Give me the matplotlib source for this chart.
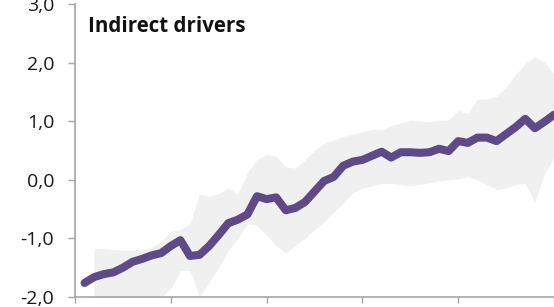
import matplotlib
matplotlib.use("Agg")
import matplotlib.pyplot as plt

years = list(range(1971, 2021))
index_values = [
    -1.76, -1.66, -1.61, -1.58, -1.50, -1.40, -1.35, -1.29, -1.25, -1.13,
    -1.03, -1.30, -1.28, -1.13, -0.94, -0.74, -0.68, -0.59, -0.28, -0.33,
    -0.30, -0.52, -0.48, -0.38, -0.20, -0.02, 0.05, 0.24, 0.31, 0.34,
    0.41, 0.48, 0.38, 0.47, 0.47, 0.46, 0.47, 0.53, 0.49, 0.66,
    0.63, 0.72, 0.72, 0.66, 0.78, 0.90, 1.04, 0.88, 0.99, 1.11,
]

band_years = list(range(1972, 2021))
band_upper = [
    -1.17, -1.17, -1.19, -1.20, -1.20, -1.19, -1.15, -1.05, -0.88,
    -0.85, -0.75, -0.25, -0.28, -0.24, -0.14, -0.25, 0.12, 0.35, 0.43,
    0.40, 0.22, 0.20, 0.34, 0.50, 0.62, 0.68, 0.74, 0.78, 0.82,
    0.86, 0.86, 0.92, 0.97, 1.02, 1.00, 0.99, 1.02, 1.02, 1.18,
    1.13, 1.37, 1.38, 1.42, 1.58, 1.80, 1.98, 2.10, 2.00, 1.80,
]
band_lower = [
    -2.05, -2.05, -2.05, -2.05, -2.05, -2.05, -2.05, -2.00, -1.85,
    -1.55, -1.55, -2.00, -1.75, -1.50, -1.20, -1.00, -0.75, -0.78, -0.95,
    -1.12, -1.25, -1.12, -1.00, -0.85, -0.72, -0.55, -0.40, -0.22, -0.14,
    -0.10, -0.06, -0.06, -0.08, -0.10, -0.08, -0.05, -0.02, 0.00, 0.02,
    0.05, 0.00, -0.08, -0.17, -0.14, -0.08, -0.06, -0.37, 0.10, 0.38,
]

y_ticks = [-2.0, -1.0, 0.0, 1.0, 2.0, 3.0]
y_tick_labels = ["-2,0", "-1,0", "0,0", "1,0", "2,0", "3,0"]
x_ticks = [1970, 1980, 1990, 2000, 2010, 2020]
title = "Indirect drivers"

W, H = 554, 307
fig = plt.figure(figsize=(W / 100, H / 100), dpi=100)
ax = fig.add_axes([75 / W, (H - 297) / H, (554 - 75) / W, (297 - 4) / H])

ax.fill_between(band_years, band_lower, band_upper, color="#f0f0f0", linewidth=0, zorder=1)
ax.plot(years, index_values, color="#5d4a86", linewidth=5.8,
        solid_capstyle="round", solid_joinstyle="round", zorder=3)

ax.set_xlim(1970, 2020)
ax.set_ylim(-2.0, 3.0)
ax.set_yticks(y_ticks)
ax.set_yticklabels(y_tick_labels, family="Open Sans", fontsize=14, color="#1a1a1a")
ax.set_xticks(x_ticks)
ax.set_xticklabels([])

spine_color = "#a6a6a6"
for side in ["top", "right"]:
    ax.spines[side].set_visible(False)
for side in ["left", "bottom"]:
    ax.spines[side].set_color(spine_color)
    ax.spines[side].set_linewidth(1.2)
ax.tick_params(axis="y", direction="out", length=5, width=1.0, color=spine_color, pad=10)
ax.tick_params(axis="x", direction="out", length=4, width=1.0, color=spine_color)

ax.text(88 / W, (H - 32) / H, title, transform=fig.transFigure, family="Open Sans",
        fontweight="bold", fontsize=14.8, color="#111111", ha="left", va="baseline")

fig.savefig("out.png", dpi=100)
